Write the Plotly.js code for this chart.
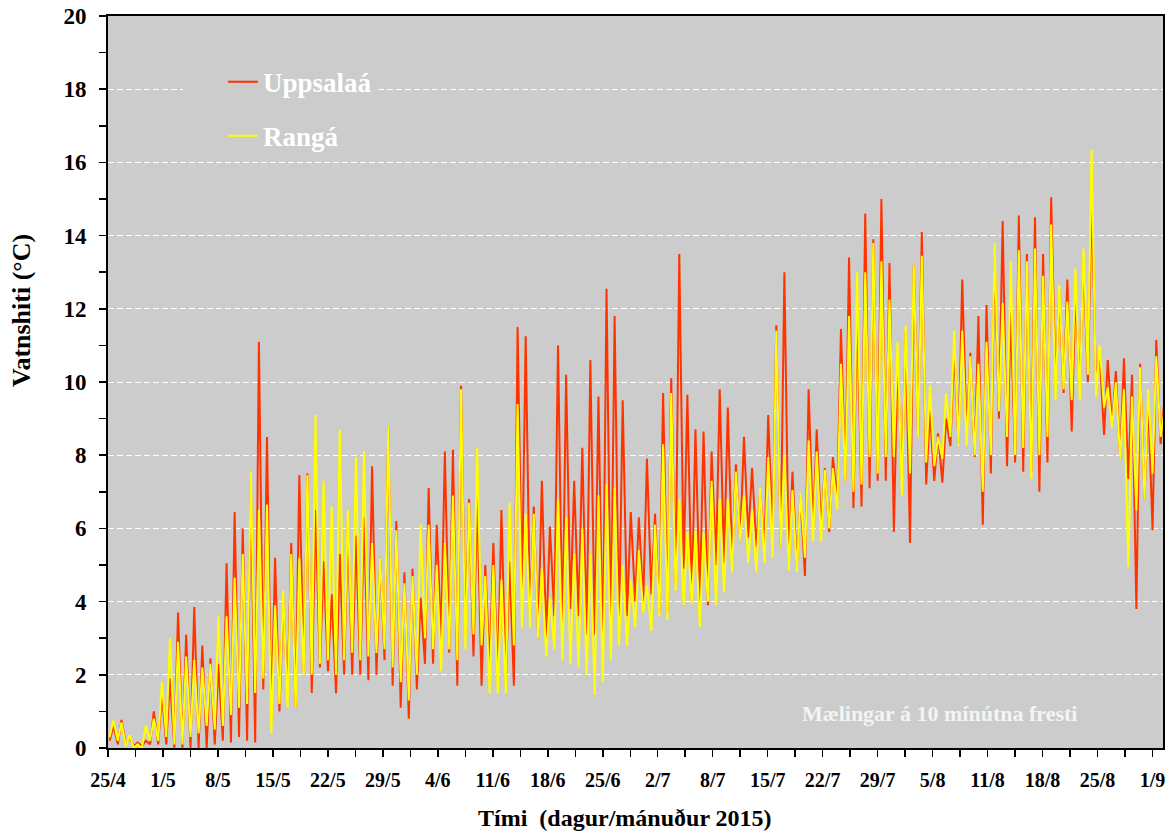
<!DOCTYPE html>
<html>
<head>
<meta charset="utf-8">
<script src="https://cdn.plot.ly/plotly-3.0.1.min.js"></script>
<style>
  html, body { margin: 0; padding: 0; background: #ffffff; }
  #chart { width: 1168px; height: 834px; }
</style>
</head>
<body>
<div id="chart"></div>
<script>
// Water temperature, 25 April – 2 September 2015.
// One entry per day (day 0 = 25/4): the daily low and the daily high.

const xTickLabels = ['25/4', '1/5', '8/5', '15/5', '22/5', '29/5', '4/6', '11/6', '18/6', '25/6',
                     '2/7', '8/7', '15/7', '22/7', '29/7', '5/8', '11/8', '18/8', '25/8', '1/9'];
const yTickLabels = ['0', '2', '4', '6', '8', '10', '12', '14', '16', '18', '20'];

const uppsalaaLow = [
  0.2, 0.1, 0.1, 0.05, 0.05, 0.1, 0.1, 0.1, 0.0, 0.0,
  0.0, 0.0, 0.0, 0.1, 0.2, 0.15, 0.3, 0.2, 0.15, 1.6,
  0.7, 1.0, 1.5, 1.1, 2.1, 1.5, 2.2, 2.1, 1.5, 2.0,
  2.0, 2.0, 1.85, 2.0, 2.4, 1.7, 1.1, 0.8, 1.6, 2.3,
  2.3, 3.0, 2.6, 1.7, 3.1, 2.5, 1.7, 2.2, 1.8, 1.7,
  1.7, 4.3, 3.5, 3.0, 3.0, 3.6, 3.0, 3.8, 3.6, 3.1,
  3.1, 2.5, 3.0, 3.2, 3.6, 4.0, 4.0, 4.2, 3.7, 3.7,
  4.5, 4.9, 4.0, 4.0, 3.9, 5.0, 5.05, 5.05, 5.65, 5.75,
  5.5, 5.5, 5.8, 5.5, 5.0, 4.9, 4.7, 5.95, 5.95, 5.9,
  6.8, 7.3, 6.55, 6.6, 7.1, 7.3, 7.3, 5.9, 7.3, 5.6,
  8.5, 7.2, 7.3, 7.25, 8.25, 8.3, 8.6, 7.95, 6.1, 7.5,
  9.0, 7.7, 7.8, 7.55, 7.55, 7.0, 7.8, 9.85, 9.7, 8.65,
  9.9, 10.0, 10.05, 8.55, 8.8, 7.9, 7.35, 3.8, 6.8, 5.95,
  8.3
];
const uppsalaaHigh = [
  0.6, 0.77, 0.3, 0.15, 0.2, 1.0, 1.5, 1.9, 3.7, 3.1,
  3.85, 2.8, 2.45, 2.3, 5.05, 6.45, 6.0, 7.3, 11.1, 8.5,
  5.2, 4.1, 5.6, 7.45, 7.5, 6.5, 5.1, 4.2, 5.3, 6.2,
  5.8, 6.3, 7.7, 5.2, 8.8, 6.2, 4.8, 4.9, 4.1, 7.1,
  6.1, 8.1, 8.15, 9.9, 6.8, 6.9, 5.0, 5.6, 6.5, 5.1,
  11.5, 11.25, 6.6, 7.3, 6.05, 11.0, 10.2, 7.3, 8.2, 10.6,
  9.6, 12.55, 11.8, 9.5, 6.45, 6.3, 7.9, 6.4, 9.7, 10.1,
  13.5, 9.65, 8.7, 8.65, 8.1, 9.8, 9.3, 7.75, 8.5, 7.65,
  7.0, 9.1, 11.55, 13.0, 7.55, 6.9, 9.8, 8.7, 7.65, 7.95,
  11.45, 13.4, 12.2, 14.6, 13.9, 15.0, 13.25, 10.6, 11.35, 13.2,
  14.1, 9.2, 8.6, 9.0, 10.9, 12.8, 10.8, 11.8, 12.1, 13.4,
  14.4, 11.9, 14.55, 13.5, 14.5, 13.5, 15.05, 12.45, 12.8, 12.45,
  13.3, 15.0, 10.8, 10.6, 10.3, 10.65, 10.2, 10.5, 9.5, 11.15,
  9.5
];

const rangaLow = [
  0.3, 0.2, 0.05, 0.0, 0.0, 0.2, 0.2, 0.3, 0.1, 0.1,
  0.3, 0.4, 0.6, 0.5, 0.6, 0.9, 1.1, 1.2, 1.5, 1.9,
  0.4, 1.2, 1.1, 1.1, 2.0, 2.0, 2.3, 2.4, 2.0, 2.4,
  2.6, 2.4, 2.5, 2.6, 2.7, 2.2, 1.8, 1.3, 2.0, 3.0,
  2.7, 2.1, 2.7, 2.4, 2.7, 3.1, 2.8, 1.5, 1.5, 1.5,
  2.8, 3.3, 3.3, 3.0, 2.5, 2.7, 2.4, 2.3, 2.2, 2.0,
  1.45, 1.8, 2.4, 2.8, 2.8, 3.3, 3.7, 3.2, 3.6, 3.5,
  4.3, 3.9, 3.95, 3.3, 4.0, 3.9, 4.25, 4.8, 5.65, 5.05,
  4.8, 5.05, 5.2, 5.5, 4.85, 4.8, 5.2, 5.65, 5.65, 6.0,
  6.5, 7.3, 7.0, 7.2, 7.95, 7.5, 7.95, 7.95, 6.9, 7.5,
  8.5, 7.8, 7.7, 7.9, 8.5, 8.25, 8.25, 8.0, 7.0, 8.0,
  9.2, 8.5, 8.0, 8.2, 7.35, 8.0, 8.5, 9.5, 9.8, 9.5,
  9.5, 10.2, 9.6, 9.3, 8.75, 7.9, 4.95, 6.5, 6.8, 7.5,
  8.5
];
const rangaHigh = [
  0.75, 0.7, 0.35, 0.1, 0.6, 0.8, 1.8, 3.0, 2.9, 2.5,
  2.4, 2.2, 2.3, 3.6, 3.6, 4.65, 5.3, 7.55, 6.5, 6.65,
  3.9, 4.3, 5.3, 5.2, 7.45, 9.1, 7.3, 6.6, 8.7, 6.5,
  7.95, 8.1, 5.6, 5.2, 8.8, 5.95, 4.5, 4.7, 6.1, 6.1,
  5.0, 5.6, 6.9, 9.8, 6.7, 8.2, 4.7, 5.0, 4.6, 6.7,
  9.4, 6.4, 6.4, 4.9, 4.1, 6.8, 6.3, 5.3, 6.0, 5.3,
  6.9, 7.2, 7.1, 5.0, 4.6, 5.4, 4.45, 6.1, 8.3, 9.7,
  6.8, 5.9, 5.95, 5.9, 7.3, 6.8, 6.8, 7.55, 6.9, 6.5,
  7.1, 7.95, 11.4, 8.0, 7.05, 6.95, 8.4, 8.1, 7.6, 7.65,
  10.5, 11.8, 13.0, 13.0, 13.8, 13.3, 12.25, 11.1, 11.55, 13.2,
  13.45, 9.9, 8.5, 9.7, 11.4, 11.4, 10.7, 10.5, 11.1, 13.8,
  12.15, 13.3, 13.6, 13.3, 13.65, 12.9, 14.3, 12.65, 12.2, 13.1,
  13.65, 16.35, 11.0, 9.85, 10.0, 9.8, 9.6, 10.4, 9.8, 10.7,
  9.2
];

// Time of day (hours) at which the daily low and high occur.
const LOW_HOUR = 5;
const HIGH_HOUR = 16;
// Axis: day offsets from 25/4, labelled every 6.8 days with a minor tick halfway.
const TICK_STEP = 6.8;
const X_MAX = 130.5;

function dailyTrace(lows, highs) {
  const x = [], y = [];
  for (let d = 0; d < lows.length; d++) {
    x.push(d + LOW_HOUR / 24);  y.push(lows[d]);
    x.push(d + HIGH_HOUR / 24); y.push(highs[d]);
  }
  return { x, y };
}

const serif = '"Liberation Serif", "Times New Roman", Times, serif';
const tickVals = xTickLabels.map((_, i) => i * TICK_STEP);
const minorVals = xTickLabels.map((_, i) => i * TICK_STEP + TICK_STEP / 2);
const yTickVals = yTickLabels.map(Number);
const yMinorVals = yTickVals.slice(0, -1).map(v => v + 1);

const red = dailyTrace(uppsalaaLow, uppsalaaHigh);
const yel = dailyTrace(rangaLow, rangaHigh);

const traces = [
  { x: red.x, y: red.y, type: 'scatter', mode: 'lines', name: 'Uppsalaá',
    legendgroup: 'a', line: { color: '#FF3300', width: 2 } },
  { x: yel.x, y: yel.y, type: 'scatter', mode: 'lines', name: 'Rangá',
    legendgroup: 'b', line: { color: '#FFFF00', width: 2 } }
];

const tickStyle = { ticks: 'outside', ticklen: 7, tickwidth: 1.5, tickcolor: '#000' };

const layout = {
  width: 1168, height: 834,
  margin: { l: 108, r: 5, t: 16, b: 86 },
  paper_bgcolor: '#ffffff',
  plot_bgcolor: '#CCCCCC',
  font: { family: serif, color: '#000000' },
  showlegend: true,
  legend: {
    x: 0.071, y: 0.943, xanchor: 'left', yanchor: 'top',
    bgcolor: '#CCCCCC', borderwidth: 0,
    font: { family: serif, size: 27, color: '#ffffff', weight: 700 },
    tracegroupgap: 16, indentation: 40
  },
  xaxis: Object.assign({
    range: [0, X_MAX],
    tickmode: 'array', tickvals: tickVals, ticktext: xTickLabels,
    minor: Object.assign({ tickmode: 'array', tickvals: minorVals, showgrid: false }, tickStyle),
    showgrid: false, zeroline: false,
    showline: true, linecolor: '#000', linewidth: 2, mirror: true,
    tickfont: { family: serif, size: 20, weight: 700, color: '#000' },
    ticklabelstandoff: 6
  }, tickStyle),
  yaxis: Object.assign({
    range: [0, 20],
    tickmode: 'array', tickvals: yTickVals, ticktext: yTickLabels,
    minor: Object.assign({ tickmode: 'array', tickvals: yMinorVals, showgrid: false }, tickStyle),
    showgrid: true, gridcolor: '#ffffff', gridwidth: 1, griddash: '6px,3px',
    zeroline: false,
    showline: true, linecolor: '#000', linewidth: 2, mirror: true,
    tickfont: { family: serif, size: 23, weight: 700, color: '#000' },
    ticklabelstandoff: 8
  }, tickStyle),
  annotations: [
    { text: 'Vatnshiti (°C)', textangle: -90, xref: 'paper', yref: 'paper',
      x: -0.0815, y: 0.597, xanchor: 'center', yanchor: 'middle', showarrow: false,
      font: { family: serif, size: 26, weight: 700, color: '#000' } },
    { text: 'Tími\u00a0\u00a0(dagur/mánuður 2015)', xref: 'paper', yref: 'paper',
      x: 0.49, y: -0.0956, xanchor: 'center', yanchor: 'middle', showarrow: false,
      font: { family: serif, size: 24, weight: 700, color: '#000' } },
    { text: 'Mælingar á 10 mínútna fresti', xref: 'paper', yref: 'paper',
      x: 0.7877, y: 0.0478, xanchor: 'center', yanchor: 'middle', showarrow: false,
      font: { family: serif, size: 22, weight: 700, color: '#F4F4F4' } }
  ]
};

Plotly.newPlot('chart', traces, layout, { displayModeBar: false, staticPlot: true });
</script>
</body>
</html>
